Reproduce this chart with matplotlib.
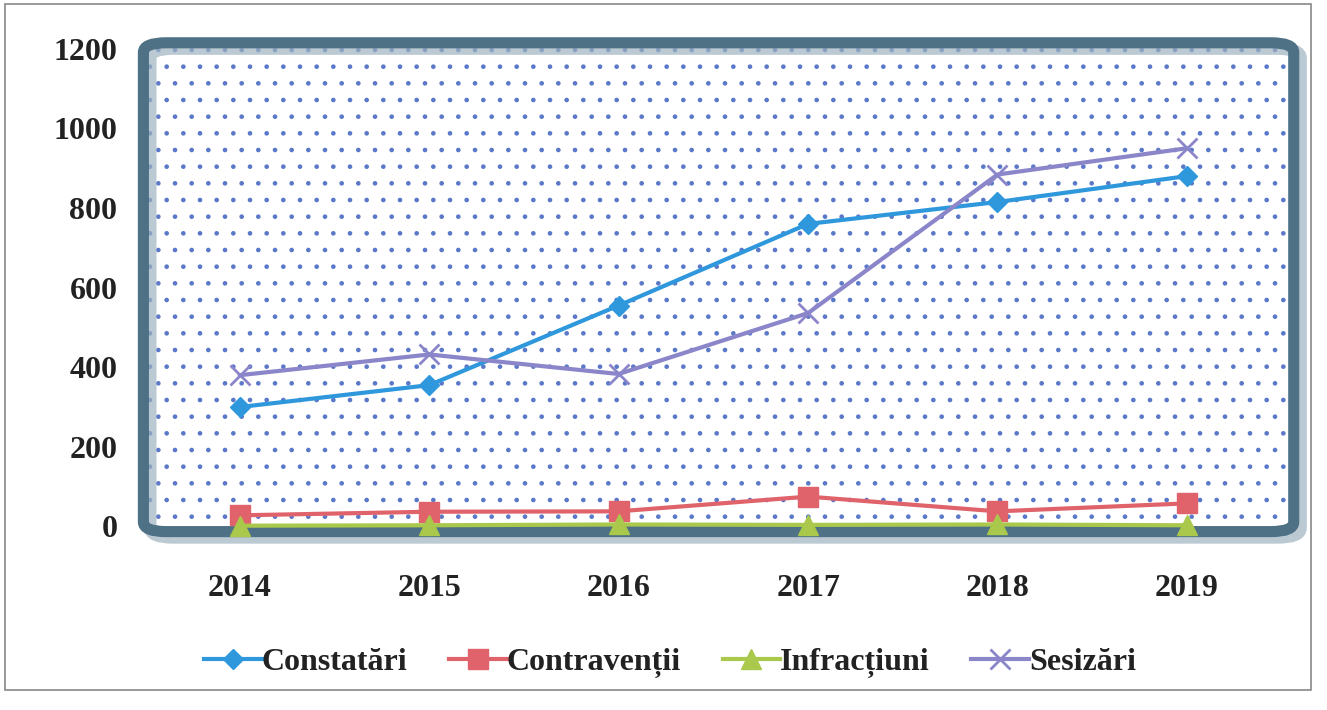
import numpy as np
import matplotlib.pyplot as plt
from matplotlib.patches import FancyBboxPatch, Rectangle
import matplotlib as mpl

mpl.rcParams.update({'font.family': ['Liberation Serif', 'DejaVu Serif'], 'font.weight': 'bold',
                     'hatch.linewidth': 0.9})

years = ['2014', '2015', '2016', '2017', '2018', '2019']
constatari = [300, 355, 555, 760, 815, 880]
contraventii = [28, 37, 38, 75, 38, 58]
infractiuni = [2, 3, 5, 4, 5, 3]
sesizari = [380, 432, 383, 536, 884, 950]

fig = plt.figure(figsize=(13.27, 7.10), dpi=100)
ax = fig.add_axes([0.1115, 0.254, 0.86, 0.683])

ax.set_facecolor('white')
ax.patch.set_hatch('.')
ax.patch.set_edgecolor('#5a78c8')

x = np.arange(len(years))
ax.plot(x, constatari, color='#2f97dc', lw=3, marker='D', ms=10, label='Constatări', zorder=8)
ax.plot(x, contraventii, color='#e0636c', lw=3, marker='s', ms=14, label='Contravenții', zorder=8)
ax.plot(x, infractiuni, color='#a9c84c', lw=3, marker='^', ms=14, label='Infracțiuni', zorder=8, clip_on=False)
ax.plot(x, sesizari, color='#8b86c9', lw=3, marker='x', ms=14, mew=2, label='Sesizări', zorder=8)

ax.set_xlim(-0.485, 5.54)
ax.set_ylim(-8, 1210)
ax.set_yticks([0, 200, 400, 600, 800, 1000, 1200])
ax.set_xticks(x)
ax.set_xticklabels(years)
ax.tick_params(length=0, labelsize=23, colors='#222222')
ax.tick_params(axis='x', pad=32)
ax.tick_params(axis='y', pad=22)
for s in ax.spines.values():
    s.set_visible(False)

# thick rounded frame with shadow
shadow = FancyBboxPatch((0.006, -0.012), 1.0, 1.0, boxstyle='round,pad=0.004,rounding_size=0.02',
                        transform=ax.transAxes, fill=False, lw=9, edgecolor='#9fb3c0',
                        clip_on=False, zorder=5, alpha=0.7)
ax.add_patch(shadow)
frame = FancyBboxPatch((0, 0), 1.0, 1.0, boxstyle='round,pad=0.004,rounding_size=0.02',
                       transform=ax.transAxes, fill=False, lw=8, edgecolor='#4e7186',
                       clip_on=False, zorder=6)
ax.add_patch(frame)

# outer chart border
fig.patches.append(Rectangle((0.004, 0.028), 0.984, 0.966, transform=fig.transFigure,
                             fill=False, lw=1.2, edgecolor='#888888'))

leg = fig.legend(loc='center', bbox_to_anchor=(0.505, 0.066), ncol=4, frameon=False,
                 fontsize=23, handlelength=1.8, columnspacing=1.3, handletextpad=0.0)
for t in leg.get_texts():
    t.set_color('#222222')

fig.savefig('out.png', dpi=100)
